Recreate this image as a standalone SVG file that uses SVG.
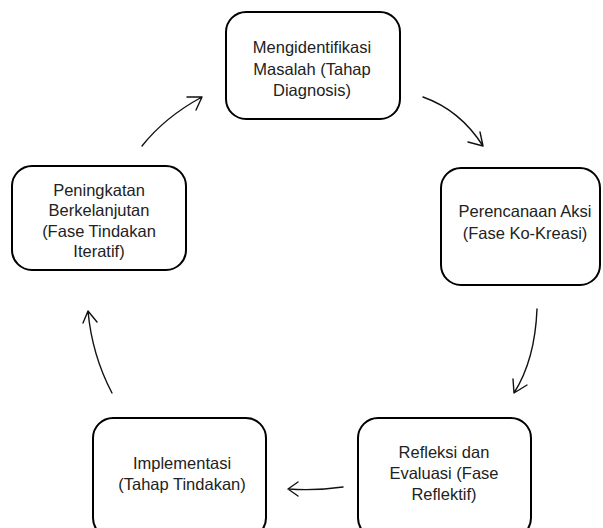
<svg xmlns="http://www.w3.org/2000/svg" width="603" height="528" viewBox="0 0 603 528">
<style>
.box{fill:#fff;stroke:#000;stroke-width:2}
.t{font-family:"Liberation Sans",Arial,sans-serif;font-size:16.5px;fill:#222;text-anchor:middle}
.c{fill:none;stroke:#111;stroke-width:1.4;stroke-linecap:round;stroke-linejoin:round}
</style>
<rect width="603" height="528" fill="#fff"/>
<g id="connectors">
<path class="c" d="M142,146 Q165,117 202,97 M187,97 L202,97 L196,110"/>
<path class="c" d="M423,97 Q460,110 483,146 M468,142 L483,146 L480,132"/>
<path class="c" d="M537,309 Q535,360 514,393 M513,379 L514,393 L527,385"/>
<path class="c" d="M112,393 Q92,355 88,311 M83,323 L88,311 L97,322"/>
<path class="c" d="M343,487 Q315,491 288,489 M298,482 L288,489 L298,496"/>
</g>
<g id="n1">
<rect class="box" x="226" y="12" width="174" height="107" rx="20"/>
<text class="t" x="312" y="53">Mengidentifikasi</text>
<text class="t" x="312" y="75">Masalah (Tahap</text>
<text class="t" x="312" y="96">Diagnosis)</text>
</g>
<g id="n2">
<rect class="box" x="441" y="168" width="159" height="117" rx="20"/>
<text class="t" x="525" y="217">Perencanaan Aksi</text>
<text class="t" x="525" y="239">(Fase Ko-Kreasi)</text>
</g>
<g id="n3">
<rect class="box" x="358" y="418" width="173" height="120" rx="20"/>
<text class="t" x="444" y="458">Refleksi dan</text>
<text class="t" x="444" y="479">Evaluasi (Fase</text>
<text class="t" x="444" y="500">Reflektif)</text>
</g>
<g id="n4">
<rect class="box" x="93" y="418" width="173" height="120" rx="20"/>
<text class="t" x="182" y="469">Implementasi</text>
<text class="t" x="182" y="490">(Tahap Tindakan)</text>
</g>
<g id="n5">
<rect class="box" x="12" y="166" width="174" height="104" rx="20"/>
<text class="t" x="99" y="196">Peningkatan</text>
<text class="t" x="99" y="216">Berkelanjutan</text>
<text class="t" x="99" y="237">(Fase Tindakan</text>
<text class="t" x="99" y="257">Iteratif)</text>
</g>
</svg>
